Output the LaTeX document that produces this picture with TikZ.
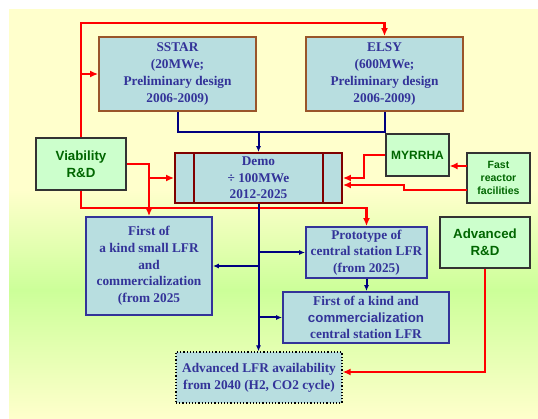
\documentclass[tikz,border=0pt]{standalone}
\usepackage{fontspec}
\setmainfont{Liberation Serif}
\setsansfont{Liberation Sans}
\usetikzlibrary{arrows.meta,calc}
\definecolor{bgyel}{HTML}{FFFFCC}
\definecolor{bggrn}{HTML}{CCFF99}
\definecolor{boxblue}{HTML}{B8DEE0}
\definecolor{txtblue}{HTML}{333399}
\definecolor{lineblue}{HTML}{000080}
\definecolor{grnfill}{HTML}{CCFFCC}
\definecolor{grntxt}{HTML}{006600}
\definecolor{brownb}{HTML}{99552A}
\definecolor{redb}{HTML}{800000}
\definecolor{redline}{HTML}{FF0000}
\tikzset{
  bluebox/.style={draw=txtblue, line width=1.8pt, fill=boxblue, text=txtblue, align=center,
    font=\bfseries\fontsize{13.3}{16.7}\selectfont, inner sep=0pt},
  brownbox/.style={bluebox, draw=brownb},
  demobox/.style={bluebox, draw=redb},
  dotbox/.style={bluebox, draw=black, line width=1.2pt, dotted},
  greenbox/.style={draw=black!80, line width=1.1pt, fill=grnfill, text=grntxt, align=center,
    font=\sffamily\bfseries\fontsize{13.3}{16.7}\selectfont, inner sep=0pt},
  redarr/.style={draw=redline, line width=2.5pt, -{Latex[length=8pt,width=7pt]}},
  redln/.style={draw=redline, line width=2.5pt},
  bluearr/.style={draw=lineblue, line width=2pt, -{Latex[length=6pt,width=5pt]}},
  blueln/.style={draw=lineblue, line width=2pt},
}
\begin{document}
\begin{tikzpicture}[x=1pt,y=-1pt]
\useasboundingbox (0,0) rectangle (538,419);
\fill[white] (0,0) rectangle (538,419);
\fill[bgyel] (9,9) rectangle (538,190.5);
\shade[top color=bgyel, bottom color=bggrn] (9,190) rectangle (538,290.5);
\shade[top color=bggrn, bottom color=bgyel] (9,290) rectangle (538,419);

% nodes
\node[brownbox, minimum width=157pt, minimum height=74pt] (sstar) at (177.5,74) {SSTAR\\(20MWe;\\Preliminary design\\2006-2009)};
\node[brownbox, minimum width=157pt, minimum height=74pt] (elsy) at (384.5,74) {ELSY\\(600MWe;\\Preliminary design\\2006-2009)};
\node[greenbox, minimum width=90pt, minimum height=52pt] (via) at (81,164) {Viability\\R\&D};
\node[demobox, minimum width=167pt, minimum height=50pt] (demo) at (258.5,178) {Demo\\÷ 100MWe\\2012-2025};
\draw[redb, line width=1.4pt] ($(demo.north west)+(20,0)$) -- ($(demo.south west)+(20,0)$);
\draw[redb, line width=1.4pt] ($(demo.north east)+(-20,0)$) -- ($(demo.south east)+(-20,0)$);
\node[greenbox, minimum width=63pt, minimum height=42pt, font=\sffamily\bfseries\fontsize{12}{15}\selectfont] (myrrha) at (417.5,155) {MYRRHA};
\node[greenbox, minimum width=63pt, minimum height=50pt, font=\sffamily\bfseries\fontsize{10.5}{13}\selectfont] (fast) at (498.5,178) {Fast\\reactor\\facilities};
\node[bluebox, minimum width=126pt, minimum height=98pt] (small) at (149,266) {First of\\a kind small LFR\\and\\commercialization\\(from 2025};
\node[bluebox, minimum width=121pt, minimum height=51pt] (proto) at (366.5,252.5) {Prototype of\\central station LFR\\(from 2025)};
\node[greenbox, minimum width=90pt, minimum height=51pt] (advrd) at (485,242.5) {Advanced\\R\&D};
\node[bluebox, minimum width=166pt, minimum height=51pt] (central) at (366,317.5) {First of a kind and\\{\sffamily commercialization}\\central station LFR};
\node[dotbox, minimum width=166pt, minimum height=51pt] (adv) at (259,377.5) {Advanced LFR availability\\from 2040 (H2, CO2 cycle)};

% coordinates
\coordinate (rtop) at (384.5,23);
\coordinate (rbot) at (366.5,208);
\coordinate (mj) at (364,178);
\coordinate (f1) at (467,166);
\coordinate (f2) at (467,190);
\coordinate (f3) at (404,185);
\coordinate (a1) at (485,372);
\coordinate (bj) at (258.5,132);

% red connectors
\draw[redarr] (via.north) |- (rtop) -- (elsy.north);
\draw[redarr] (via.north |- sstar.west) -- (sstar.west);
\draw[redarr] (via.east) -| (small.north |- demo.west) -- (demo.west);
\draw[redarr] (via.east -| small.north) -- (small.north);
\draw[redarr] (via.south) |- (rbot) -- (proto.north);
\draw[redarr] (myrrha.west) -| (mj) -- (demo.east);
\draw[redarr] (f1) -- (f1 -| myrrha.east);
\draw[redarr] (f2) -| (f3) -- (f3 -| demo.east);
\draw[redarr] (advrd.south) -- (a1) -- (a1 -| adv.east);

% blue connectors
\draw[blueln] (sstar.south) |- (bj) -| (elsy.south);
\draw[bluearr] (bj) -- (demo.north);
\draw[bluearr] (demo.south) -- (demo.south |- adv.north);
\draw[bluearr] (demo.south |- proto.west) -- (proto.west);
\draw[bluearr] (demo.south |- small.east) -- (small.east);
\draw[bluearr] (demo.south |- central.west) -- (central.west);
\draw[bluearr] (proto.south) -- (proto.south |- central.north);
\end{tikzpicture}
\end{document}
